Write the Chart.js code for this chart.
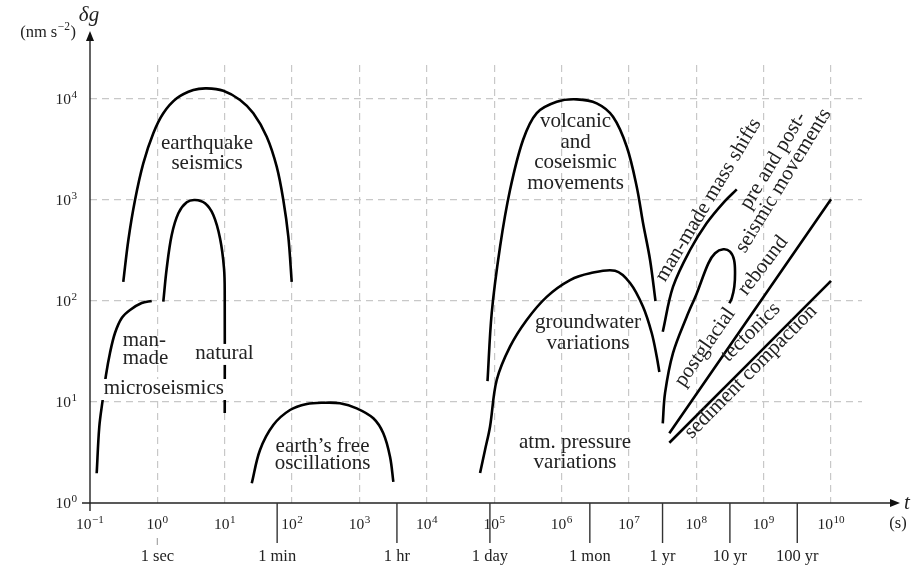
<!DOCTYPE html>
<html><head><meta charset="utf-8">
<script src="https://cdn.jsdelivr.net/npm/chart.js@4.4.1/dist/chart.umd.min.js"></script>
<style>html,body{margin:0;padding:0;background:#fff;}canvas{display:block;}</style>
</head><body>
<canvas id="c" width="917" height="565"></canvas>
<script>
// ---------- data: period t (s) vs gravity change δg (nm s^-2) ----------
const quakePeriod = [0.312,0.371,0.466,0.618,0.871,1.225,1.94,3.42,5.40,9.53,16.9,26.6,42.0,59.1,74.1,87.9,98.7];
const quakeAmp    = [155,402,1000,2307,4575,7220,10160,12280,12760,12080,9775,7220,4236,2138,1000,433,155];

const manMadeMicroPeriod = [0.1257,0.1374,0.1543,0.1728,0.198,0.235,0.296,0.393,0.585,0.824];
const manMadeMicroAmp    = [1.97,5.69,10.5,18.5,30.6,48.2,67.9,81.5,95.5,100];

const naturalMicroPeriod = [1.225,1.377,1.633,2.05,2.73,3.62,5.10,6.77,8.51,9.76,10.0,10.0];
const naturalMicroAmp    = [98.4,211,450,739,949,1000,927,710,418,211,115,7.8];

const freeOscPeriod = [25.2,33.4,52.6,93.1,165,291,514,910,1607,2260,2843,3184];
const freeOscAmp    = [1.57,3.35,5.92,8.33,9.55,9.84,9.71,8.66,6.9,4.9,2.87,1.62];

const volcanicPeriod = [7.96e4,9.19e4,1.222e5,1.718e5,2.68e5,4.28e5,8.48e5,1.68e6,3.33e6,5.81e6,9.29e6,1.306e7,1.62e7,2.06e7,2.48e7];
const volcanicAmp    = [16.1,76.1,345,1256,3927,7266,9400,9930,9070,6680,3370,1355,592,255,100];

const groundwaterPeriod = [6.17e4,7.31e4,8.67e4,1.09e5,1.718e5,3.04e5,6.02e5,1.337e6,2.65e6,6.22e6,1.04e7,1.62e7,2.18e7,2.59e7,2.83e7];
const groundwaterAmp    = [1.98,3.35,5.7,16.5,35.3,64.9,110,161,188,199.5,151,87.8,48.2,28.1,19.8];

const massShiftPeriod = [3.18e7,4.52e7,8.08e7,1.43e8,2.50e8,3.99e8];
const massShiftAmp    = [49.7,138.6,320,592,934,1276];

const reboundPeriod = [3.18e7,3.44e7,4.52e7,7.21e7,1.016e8,1.51e8,1.90e8,2.52e8,3.17e8,3.64e8,3.76e8,3.67e8,3.36e8,3.10e8];
const reboundAmp    = [6.15,12.3,30.6,69.9,119,236,297,325,308,255,188,139,106,95];

const tectonicsPeriod = [3.98e7,1.0e10];
const tectonicsAmp    = [4.9,1016];

const sedimentPeriod = [3.98e7,1.0e10];
const sedimentAmp    = [3.95,158];

// tick labels
const xTickExponents = [-1,0,1,2,3,4,5,6,7,8,9,10];
const yTickExponents = [0,1,2,3,4];
const timeMarkSeconds = [1,60,3600,86400,2629800,31557600,315576000,3155760000];
const timeMarkLabels  = ['1 sec','1 min','1 hr','1 day','1 mon','1 yr','10 yr','100 yr'];

// text annotations, anchored in data coordinates
const blockLabels = [
  {lines:['earthquake','seismics'], x:5.46, y:3200, lh:19.5, align:'center'},
  {lines:['man-','made'], x:0.306, y:35.5, lh:18, align:'left'},
  {lines:['natural'], x:9.92, y:26.7, lh:20, align:'center', bg:true},
  {lines:['microseismics'], x:1.246, y:12.0, lh:20, align:'center', bg:true},
  {lines:['earth\u2019s free','oscillations'], x:283, y:3.22, lh:17.5, align:'center'},
  {lines:['volcanic','and','coseismic','movements'], x:1.613e6, y:5280, lh:20.5, align:'center'},
  {lines:['groundwater','variations'], x:2.47e6, y:54, lh:21, align:'center'},
  {lines:['atm. pressure','variations'], x:1.585e6, y:3.5, lh:19.5, align:'center'}
];
const slantLabels = [
  {text:'man-made mass shifts', x:1.51e8, y:1000, angle:-59},
  {text:'pre and post-', x:1.39e9, y:2449, angle:-58.6},
  {text:'seismic movements', x:1.96e9, y:1553, angle:-58.5},
  {text:'postglacial', x:1.35e8, y:34.8, angle:-55.2},
  {text:'rebound', x:9.8e8, y:224, angle:-52.5},
  {text:'tectonics', x:6.43e8, y:49, angle:-45},
  {text:'sediment compaction', x:6.43e8, y:19.95, angle:-45.3}
];

// ---------- chart ----------
const SERIF = '"Liberation Serif","Times New Roman",serif';
const TXT = '#222';
function series(p, a){ return p.map((t,i)=>({x:t, y:a[i]})); }
const curves = [
  [quakePeriod, quakeAmp],
  [manMadeMicroPeriod, manMadeMicroAmp],
  [naturalMicroPeriod, naturalMicroAmp],
  [freeOscPeriod, freeOscAmp],
  [volcanicPeriod, volcanicAmp],
  [groundwaterPeriod, groundwaterAmp],
  [massShiftPeriod, massShiftAmp],
  [reboundPeriod, reboundAmp],
  [tectonicsPeriod, tectonicsAmp],
  [sedimentPeriod, sedimentAmp]
];

function drawPow(ctx, e, x, y, align, size){
  const base='10', sup = e<0 ? '\u2212'+(-e) : String(e);
  const ss = size*0.72;
  ctx.font = size+'px '+SERIF; const wb = ctx.measureText(base).width;
  ctx.font = ss+'px '+SERIF; const ws = ctx.measureText(sup).width;
  const w = wb+ws+0.5;
  const x0 = align==='right' ? x-w : (align==='center' ? x-w/2 : x);
  ctx.textAlign='left'; ctx.textBaseline='alphabetic';
  ctx.font = size+'px '+SERIF; ctx.fillText(base, x0, y);
  ctx.font = ss+'px '+SERIF; ctx.fillText(sup, x0+wb+0.5, y-size*0.4);
}

const decor = {
  id:'decor',
  afterDatasetsDraw(chart){
    const ctx = chart.ctx, sx = chart.scales.x, sy = chart.scales.y;
    ctx.save();
    ctx.fillStyle = TXT;
    ctx.font = '21px '+SERIF;
    ctx.textBaseline = 'alphabetic';
    for (const L of blockLabels){
      const x = sx.getPixelForValue(L.x), y = sy.getPixelForValue(L.y);
      L.lines.forEach((s,i)=>{
        ctx.textAlign = L.align;
        const yy = y + i*L.lh;
        if (L.bg){
          const w = ctx.measureText(s).width;
          const left = L.align==='center' ? x-w/2 : x;
          ctx.fillStyle='#fff'; ctx.fillRect(left-3, yy-15, w+6, 21); ctx.fillStyle=TXT;
        }
        ctx.fillText(s, x, yy);
      });
    }
    ctx.textAlign='center'; ctx.textBaseline='middle';
    for (const L of slantLabels){
      const x = sx.getPixelForValue(L.x), y = sy.getPixelForValue(L.y);
      ctx.save(); ctx.translate(x,y); ctx.rotate(L.angle*Math.PI/180);
      ctx.fillText(L.text, 0, 0); ctx.restore();
    }
    ctx.restore();
  },
  afterDraw(chart){
    const ctx = chart.ctx, sx = chart.scales.x, sy = chart.scales.y;
    const ca = chart.chartArea;
    const x0 = sx.getPixelForValue(0.1), y0 = sy.getPixelForValue(1);
    ctx.save();
    // axes with arrows
    ctx.strokeStyle = '#222'; ctx.fillStyle = '#111'; ctx.lineWidth = 1.4;
    ctx.beginPath(); ctx.moveTo(x0-8, y0); ctx.lineTo(ca.right+30, y0); ctx.stroke();
    ctx.beginPath(); ctx.moveTo(x0, y0+8); ctx.lineTo(x0, ca.top-25); ctx.stroke();
    const xt = ca.right+38, yt = ca.top-34;
    ctx.beginPath(); ctx.moveTo(xt, y0); ctx.lineTo(xt-10, y0-4); ctx.lineTo(xt-10, y0+4); ctx.closePath(); ctx.fill();
    ctx.beginPath(); ctx.moveTo(x0, yt); ctx.lineTo(x0-4, yt+10); ctx.lineTo(x0+4, yt+10); ctx.closePath(); ctx.fill();
    // tick labels
    ctx.fillStyle = TXT;
    for (const e of xTickExponents) drawPow(ctx, e, sx.getPixelForValue(Math.pow(10,e)), y0+26, 'center', 15.5);
    for (const e of yTickExponents) drawPow(ctx, e, x0-13, sy.getPixelForValue(Math.pow(10,e))+5, 'right', 15.5);
    // time marks
    timeMarkSeconds.forEach((s,i)=>{
      const x = sx.getPixelForValue(s);
      ctx.beginPath();
      if (i===0){ ctx.strokeStyle='#aaa'; ctx.lineWidth=1.3; ctx.moveTo(x, y0+35); ctx.lineTo(x, y0+42); }
      else { ctx.strokeStyle='#333'; ctx.lineWidth=1.4; ctx.moveTo(x, y0); ctx.lineTo(x, y0+40); }
      ctx.stroke();
      ctx.font = '16.5px '+SERIF; ctx.textAlign='center'; ctx.textBaseline='alphabetic';
      ctx.fillText(timeMarkLabels[i], x, y0+58);
    });
    // axis titles
    ctx.font = 'italic 21px '+SERIF; ctx.textAlign='left';
    ctx.fillText('t', xt+4, y0+6);
    ctx.font = '16.5px '+SERIF; ctx.textAlign='center';
    ctx.fillText('(s)', xt-2, y0+25);
    ctx.font = 'italic 21px '+SERIF; ctx.textAlign='center';
    ctx.fillText('\u03b4g', x0-1, 21);
    // (nm s^-2)
    ctx.textAlign='left';
    ctx.font = '16.5px '+SERIF;
    const a='(nm s', b='\u22122', c=')';
    const wa = ctx.measureText(a).width, wc = ctx.measureText(c).width;
    ctx.font = '11.5px '+SERIF; const wb = ctx.measureText(b).width;
    let xs = 76 - (wa+wb+wc+1);
    ctx.font = '16.5px '+SERIF; ctx.fillText(a, xs, 37);
    ctx.font = '11.5px '+SERIF; ctx.fillText(b, xs+wa+0.5, 30);
    ctx.font = '16.5px '+SERIF; ctx.fillText(c, xs+wa+wb+1, 37);
    ctx.restore();
  }
};

new Chart(document.getElementById('c'), {
  type:'scatter',
  data:{ datasets: curves.map(([p,a])=>({
    data: series(p,a), showLine:true, borderColor:'#000', borderWidth:2.6,
    pointRadius:0, pointHoverRadius:0, tension:0.35, fill:false
  }))},
  options:{
    responsive:false, animation:false, devicePixelRatio:1,
    layout:{padding:{left:90, right:55, top:65, bottom:62}},
    plugins:{legend:{display:false}, tooltip:{enabled:false}},
    scales:{
      x:{ type:'logarithmic', min:0.1, max:Math.pow(10,10.46),
          ticks:{display:false}, grid:{color:'#c8c8c8', lineWidth:1.2, drawTicks:false},
          border:{display:false, dash:[7,5]},
          afterBuildTicks(s){ s.ticks = xTickExponents.filter(e=>e>=0).map(e=>({value:Math.pow(10,e)})); } },
      y:{ type:'logarithmic', min:1, max:Math.pow(10,4.337),
          ticks:{display:false}, grid:{color:'#c8c8c8', lineWidth:1.2, drawTicks:false},
          border:{display:false, dash:[7,5]},
          afterBuildTicks(s){ s.ticks = yTickExponents.filter(e=>e>=1).map(e=>({value:Math.pow(10,e)})); } }
    }
  },
  plugins:[decor]
});
</script>
</body></html>
